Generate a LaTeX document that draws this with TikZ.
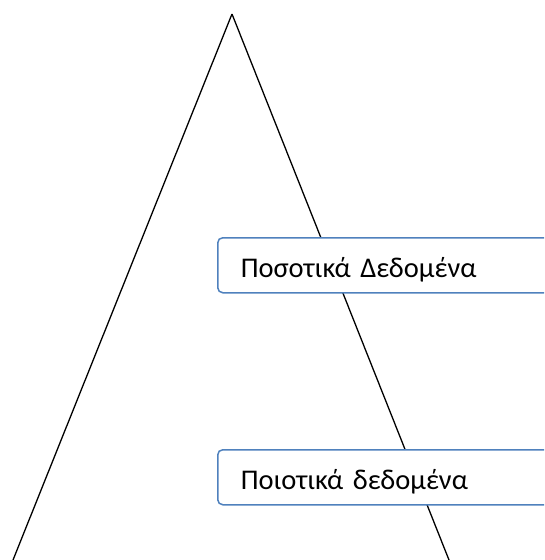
\documentclass[tikz,border=0pt]{standalone}
\usepackage{fontspec}
\setmainfont{Carlito}
\usetikzlibrary{positioning}
\definecolor{boxblue}{HTML}{4F81BD}

\begin{document}
\begin{tikzpicture}[x=1pt,y=-1pt,
  databox/.style={rectangle,rounded corners=5pt,draw=boxblue,fill=white,line width=1.5pt,
    font=\fontsize{28.5}{32}\selectfont,text width=297pt,inner xsep=23pt,minimum height=55pt,
    text height=28pt,text depth=3pt,align=left,anchor=north west},
  side/.style={line width=1.3pt,black}
]
  \useasboundingbox (0,0) rectangle (544,560);
  \clip (0,0) rectangle (544,560);
  \coordinate (top) at (232,14);
  \coordinate (left) at (13,560);
  \coordinate (right) at (449,560);
  \draw[side](top)--(left);
  \draw[side](top)--(right);

  \node[databox] (quant) at (217,237) {Ποσοτικά Δεδομένα};
  \node[databox] (qual)  at (217,449) {Ποιοτικά δεδομένα};
\end{tikzpicture}
\end{document}
